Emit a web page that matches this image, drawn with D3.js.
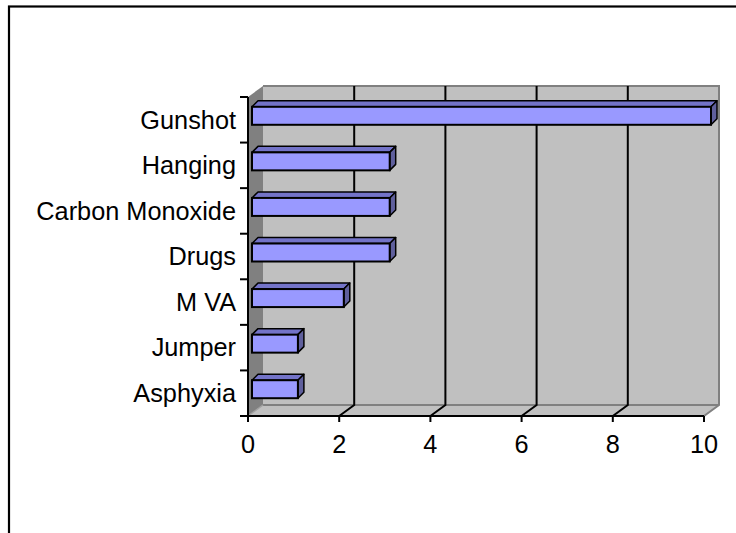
<!DOCTYPE html>
<html>
<head>
<meta charset="utf-8">
<script src="https://cdn.jsdelivr.net/npm/d3@7"></script>
<style>
  body { margin: 0; background: #fff; }
  text { font-family: "Liberation Sans", Arial, sans-serif; font-size: 25.3px; fill: #000; }
</style>
</head>
<body>
<script>
var categories = ["Gunshot", "Hanging", "Carbon Monoxide", "Drugs", "M VA", "Jumper", "Asphyxia"];
var values = [10, 3, 3, 3, 2, 1, 1];
var xTicks = [0, 2, 4, 6, 8, 10];

var w = 736, h = 533,
    front = { left: 248, top: 97, bottom: 416, right: 704 },
    depthX = 15, depthY = -11,      // offset of back wall from front plane
    barOff = { x: 4, y: -4 },       // bar front face offset from the front plane
    barDepth = 6,                   // bar thickness in x and y
    barH = 18;

var svg = d3.select("body").append("svg")
    .attr("width", w)
    .attr("height", h);

// chart area border (runs past the window on right/bottom)
svg.append("rect")
    .attr("x", 9).attr("y", 6.5)
    .attr("width", 760).attr("height", 560)
    .attr("fill", "#fff")
    .attr("stroke", "#000")
    .attr("stroke-width", 2.2);

var xFront = d3.scaleLinear().domain([0, 10]).range([front.left, front.right]);
var xBack = d3.scaleLinear().domain([0, 10]).range([front.left + depthX, front.right + depthX]);
var xBar = d3.scaleLinear().domain([0, 10]).range([front.left + barOff.x, 711]);
var y = d3.scaleBand().domain(categories).range([front.top, front.bottom]).paddingInner(0);

var backTop = front.top + depthY,
    backBottom = front.bottom + depthY;

function poly(pts) { return pts.map(function (p) { return p.join(","); }).join(" "); }

// back wall
svg.append("polygon")
    .attr("points", poly([[xBack(0), backTop], [xBack(10), backTop], [xBack(10), backBottom], [xBack(0), backBottom]]))
    .attr("fill", "#c0c0c0");

// left side wall
svg.append("polygon")
    .attr("points", poly([[xFront(0), front.top], [xBack(0), backTop], [xBack(0), backBottom], [xFront(0), front.bottom]]))
    .attr("fill", "#808080");

// floor
svg.append("polygon")
    .attr("points", poly([[xFront(0), front.bottom], [xBack(0), backBottom], [xBack(10), backBottom], [xFront(10), front.bottom]]))
    .attr("fill", "#c0c0c0");

// wall / floor edges
svg.append("polyline")
    .attr("points", poly([[xBack(0), backTop], [xBack(10), backTop], [xBack(10), backBottom], [xFront(10), front.bottom]]))
    .attr("fill", "none").attr("stroke", "#808080").attr("stroke-width", 2);
svg.append("line")
    .attr("x1", xBack(0)).attr("x2", xBack(10))
    .attr("y1", backBottom).attr("y2", backBottom)
    .attr("stroke", "#808080").attr("stroke-width", 2);
svg.append("line")
    .attr("x1", xFront(0)).attr("x2", xBack(0))
    .attr("y1", front.bottom).attr("y2", backBottom)
    .attr("stroke", "#a0a0a0").attr("stroke-width", 1.5);

// gridlines on back wall and floor
var grid = svg.append("g");
xTicks.filter(function (d) { return d > 0 && d < 10; }).forEach(function (d) {
  grid.append("polyline")
      .attr("points", poly([[xBack(d), backTop], [xBack(d), backBottom], [xFront(d), front.bottom]]))
      .attr("fill", "none").attr("stroke", "#000").attr("stroke-width", 2);
});

// x axis (front edge of floor)
svg.append("line")
    .attr("x1", xFront(0)).attr("x2", xFront(10))
    .attr("y1", front.bottom).attr("y2", front.bottom)
    .attr("stroke", "#000").attr("stroke-width", 2);
svg.selectAll(".xtick").data(xTicks).enter().append("line")
    .attr("x1", function (d) { return xFront(d); })
    .attr("x2", function (d) { return xFront(d); })
    .attr("y1", front.bottom).attr("y2", front.bottom + 6)
    .attr("stroke", "#000").attr("stroke-width", 2);
svg.selectAll(".xlabel").data(xTicks).enter().append("text")
    .attr("x", function (d) { return xFront(d); })
    .attr("y", 453)
    .attr("text-anchor", "middle")
    .text(function (d) { return d; });

// y axis
svg.append("line")
    .attr("x1", front.left).attr("x2", front.left)
    .attr("y1", front.top).attr("y2", front.bottom)
    .attr("stroke", "#000").attr("stroke-width", 2);
var yTickPos = categories.map(function (c) { return y(c); }).concat([front.bottom]);
svg.selectAll(".ytick").data(yTickPos).enter().append("line")
    .attr("x1", front.left - 8).attr("x2", front.left)
    .attr("y1", function (d) { return d; })
    .attr("y2", function (d) { return d; })
    .attr("stroke", "#000").attr("stroke-width", 2);
svg.selectAll(".ylabel").data(categories).enter().append("text")
    .attr("x", 236)
    .attr("y", function (d) { return y(d) + y.bandwidth() / 2; })
    .attr("dy", "0.35em")
    .attr("text-anchor", "end")
    .text(function (d) { return d; });

// bars
var bar = svg.selectAll("g.bar")
    .data(categories.map(function (c, i) { return { cat: c, v: values[i] }; }))
  .enter().append("g")
    .attr("class", "bar");

function geom(d) {
  var yc = y(d.cat) + y.bandwidth() / 2 + barOff.y;
  return { x0: xBar(0), x1: xBar(d.v), y0: yc - barH / 2, y1: yc + barH / 2 };
}

bar.append("polygon")   // top face
    .attr("points", function (d) {
      var g = geom(d);
      return poly([[g.x0, g.y0], [g.x0 + barDepth, g.y0 - barDepth], [g.x1 + barDepth, g.y0 - barDepth], [g.x1, g.y0]]);
    })
    .attr("fill", "#7373c8").attr("stroke", "#000").attr("stroke-width", 1.5).attr("stroke-linejoin", "round");

bar.append("polygon")   // side face
    .attr("points", function (d) {
      var g = geom(d);
      return poly([[g.x1, g.y0], [g.x1 + barDepth, g.y0 - barDepth], [g.x1 + barDepth, g.y1 - barDepth], [g.x1, g.y1]]);
    })
    .attr("fill", "#5f5f9c").attr("stroke", "#000").attr("stroke-width", 1.5).attr("stroke-linejoin", "round");

bar.append("rect")      // front face
    .attr("x", function (d) { return geom(d).x0; })
    .attr("y", function (d) { return geom(d).y0; })
    .attr("width", function (d) { var g = geom(d); return g.x1 - g.x0; })
    .attr("height", barH)
    .attr("fill", "#9999ff").attr("stroke", "#000").attr("stroke-width", 2);
</script>
</body>
</html>
